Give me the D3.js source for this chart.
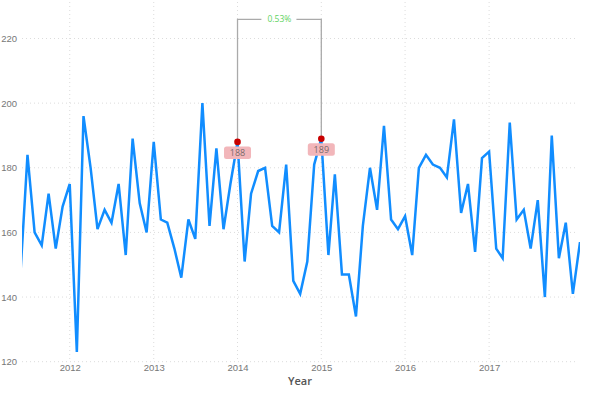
<!DOCTYPE html>
<html>
<head>
<meta charset="utf-8">
<script src="https://cdn.jsdelivr.net/npm/d3@7"></script>
<style>
  body { margin: 0; background: #fff; }
  svg { font-family: "Segoe UI", "Open Sans", sans-serif; }
</style>
</head>
<body>
<div id="chart"></div>
<script>
// monthly values, Jun 2011 .. Feb 2018
const startMonth = '2011-06';
const values = [
  148, 184, 160, 156, 172, 155, 168,
  175, 123, 196, 180, 161, 167, 163, 175, 153, 189, 169, 160,
  188, 164, 163, 155, 146, 164, 158, 200, 162, 186, 161, 175,
  188, 151, 172, 179, 180, 162, 160, 181, 145, 141, 151, 181,
  189, 153, 178, 147, 147, 134, 162, 180, 167, 193, 164, 161,
  165, 153, 180, 184, 181, 180, 177, 195, 166, 175, 154, 183,
  185, 155, 152, 194, 164, 167, 155, 170, 140, 190, 152, 163,
  141, 157
];
const yTicks = [120, 140, 160, 180, 200, 220];
const yearTicks = ['2012', '2013', '2014', '2015', '2016', '2017'];
// compared points (annotation)
const compareDates = ['2014-01', '2015-01'];
const axisTitle = 'Year';

const parseMonth = d3.timeParse('%Y-%m');
const t0 = parseMonth(startMonth);
const data = values.map((v, i) => ({date: d3.timeMonth.offset(t0, i), value: v}));

const width = 602, height = 396;
const plot = {left: 22, right: 578, top: 2, bottom: 362};

const svg = d3.select('#chart').append('svg')
    .attr('width', width).attr('height', height);

const x = d3.scaleTime()
    .domain([data[0].date, data[data.length - 1].date])
    .range([20.6, 580]);

const y = d3.scaleLinear()
    .domain([120, 220])
    .range([361.7, 38.5]);

// grid
const grid = svg.append('g');
grid.selectAll('line.h').data(yTicks).join('line')
    .attr('x1', plot.left).attr('x2', plot.right)
    .attr('y1', d => y(d)).attr('y2', d => y(d))
    .attr('stroke', '#dcdcdc').attr('stroke-width', 1)
    .attr('stroke-dasharray', '1,3');

grid.selectAll('line.v').data(yearTicks).join('line')
    .attr('x1', d => x(d3.timeParse('%Y')(d))).attr('x2', d => x(d3.timeParse('%Y')(d)))
    .attr('y1', plot.top).attr('y2', plot.bottom)
    .attr('stroke', '#dcdcdc').attr('stroke-width', 1)
    .attr('stroke-dasharray', '1,3');

// y axis labels
const yAxis = svg.append('g')
    .attr('transform', 'translate(17,0)')
    .call(d3.axisLeft(y).tickValues(yTicks).tickSize(0).tickPadding(0));
yAxis.select('.domain').remove();
yAxis.selectAll('text')
    .attr('fill', '#777').attr('font-size', 9.5)
    .attr('text-anchor', 'end');

// x axis labels
const xAxis = svg.append('g')
    .attr('transform', 'translate(0,364)')
    .call(d3.axisBottom(x)
        .tickValues(yearTicks.map(d => d3.timeParse('%Y')(d)))
        .tickFormat(d3.timeFormat('%Y'))
        .tickSize(0).tickPadding(0));
xAxis.select('.domain').remove();
xAxis.selectAll('text')
    .attr('fill', '#777').attr('font-size', 9.5);

svg.append('text')
    .attr('x', 300).attr('y', 385)
    .attr('text-anchor', 'middle')
    .attr('font-size', 11).attr('font-weight', 600)
    .attr('fill', '#555')
    .text(axisTitle);

// line
svg.append('clipPath').attr('id', 'clip')
  .append('rect')
    .attr('x', plot.left).attr('y', 0)
    .attr('width', plot.right + 2 - plot.left).attr('height', plot.bottom + 5);

svg.append('path')
    .datum(data)
    .attr('clip-path', 'url(#clip)')
    .attr('fill', 'none')
    .attr('stroke', '#118DFF')
    .attr('stroke-width', 2.5)
    .attr('stroke-linejoin', 'miter')
    .attr('d', d3.line().x(d => x(d.date)).y(d => y(d.value)));

// comparison annotation
const pts = compareDates.map(s => {
    const dt = parseMonth(s);
    return data.find(d => +d.date === +dt);
});
const topY = 19.3;
const pct = (pts[1].value - pts[0].value) / pts[0].value * 100;
const midX = (x(pts[0].date) + x(pts[1].date)) / 2;
const ann = svg.append('g');
ann.append('path')
    .attr('fill', 'none')
    .attr('stroke', '#aaa').attr('stroke-width', 1.3)
    .attr('d', 'M' + x(pts[0].date) + ',' + y(pts[0].value) +
        'V' + topY + 'H' + (midX - 18));
ann.append('path')
    .attr('fill', 'none')
    .attr('stroke', '#aaa').attr('stroke-width', 1.3)
    .attr('d', 'M' + x(pts[1].date) + ',' + y(pts[1].value) +
        'V' + topY + 'H' + (midX + 17));
ann.append('text')
    .attr('x', midX).attr('y', topY + 3)
    .attr('text-anchor', 'middle')
    .attr('font-size', 8.5)
    .attr('fill', '#5fd35f')
    .text(pct.toFixed(2) + '%');

const marks = ann.selectAll('g.pt').data(pts).join('g')
    .attr('transform', d => 'translate(' + x(d.date) + ',' + y(d.value) + ')');
marks.append('rect')
    .attr('x', -13.5).attr('y', 4.5)
    .attr('width', 27).attr('height', 12.5)
    .attr('rx', 2.5)
    .attr('fill', '#f2b6ba');
marks.append('text')
    .attr('y', 14.2)
    .attr('text-anchor', 'middle')
    .attr('font-size', 9)
    .attr('fill', '#7a6a6a')
    .text(d => d.value);
marks.append('circle')
    .attr('r', 3.3)
    .attr('fill', '#c80000');
</script>
</body>
</html>
